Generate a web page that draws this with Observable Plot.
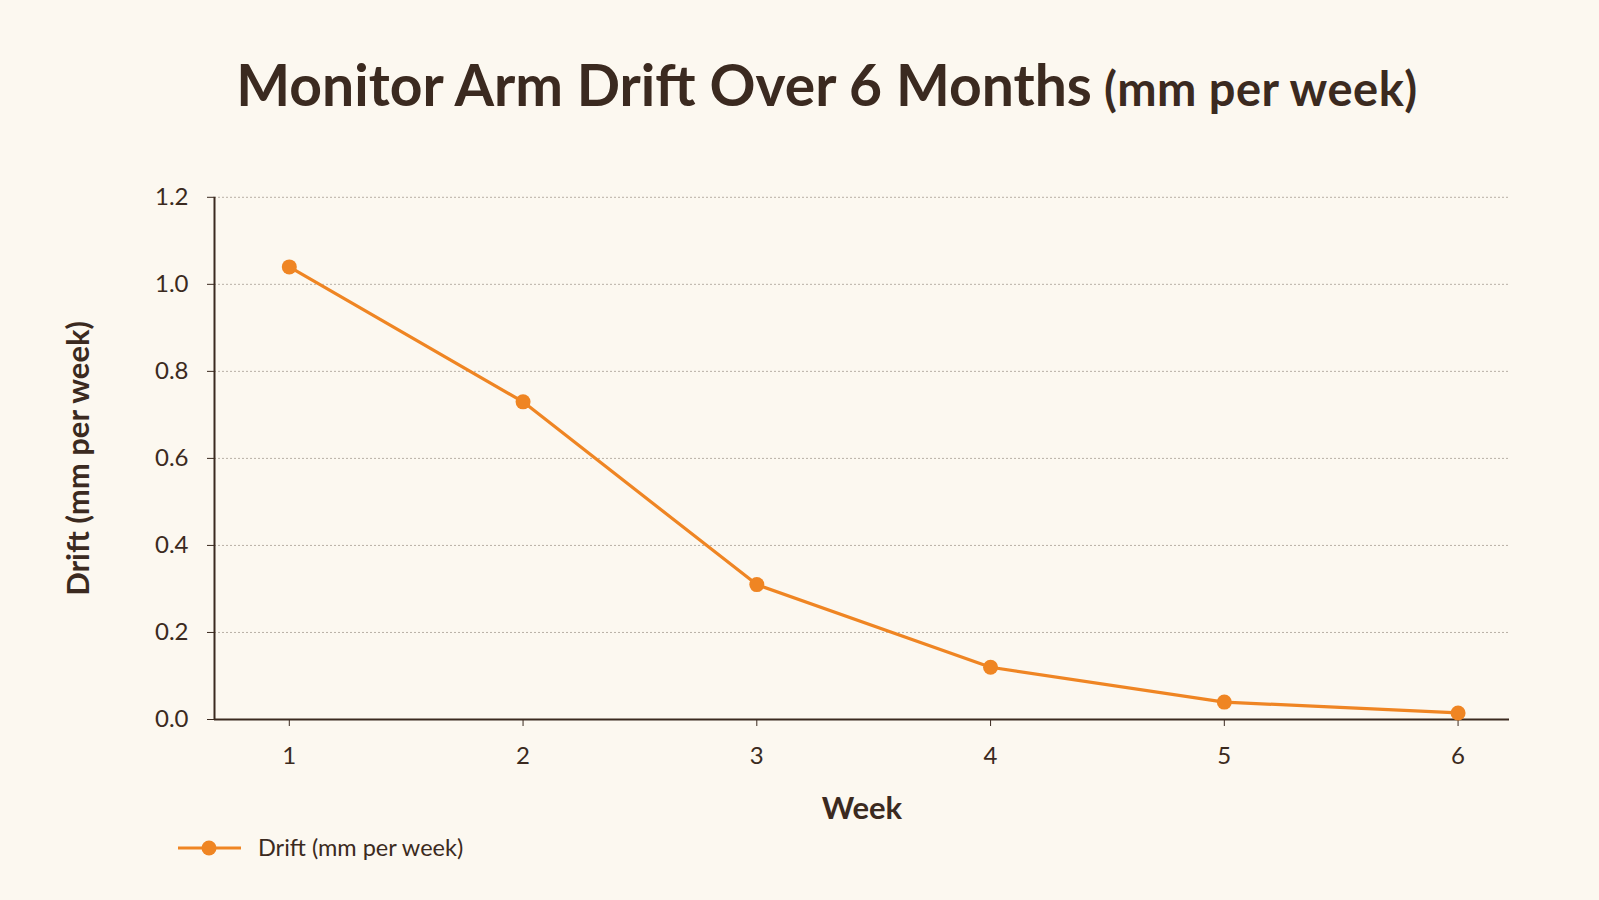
<!DOCTYPE html>
<html>
<head>
<meta charset="utf-8">
<script src="https://cdn.jsdelivr.net/npm/d3@7"></script>
<script src="https://cdn.jsdelivr.net/npm/@observablehq/plot@0.6"></script>
<style>
  html, body { margin: 0; padding: 0; background: #fcf8f0; }
  body { width: 1599px; height: 900px; overflow: hidden; font-family: Lato, "Open Sans", sans-serif; color: #3b2a20; }
  #title { position: absolute; left: 0; top: 0; width: 1599px; height: 150px; }
  #title div { position: absolute; left: 0; width: 1654px; top: 50px; text-align: center; white-space: nowrap; }
  #title .main { font-size: 57px; font-weight: 700; }
  #title .sub { font-size: 47px; font-weight: 700; margin-left: 8px; letter-spacing: 0.5px; }
  #chart { position: absolute; left: 0; top: 150px; }
  #legend { position: absolute; left: 170px; top: 830px; }
</style>
</head>
<body>
<div id="title"><div><span class="main">Monitor Arm Drift Over 6 Months</span> <span class="sub">(mm per week)</span></div></div>
<div id="chart"></div>
<div id="legend"></div>
<script>
const weeks = [1, 2, 3, 4, 5, 6];
const drift = [1.04, 0.73, 0.31, 0.12, 0.04, 0.015];
const yTicks = [0, 0.2, 0.4, 0.6, 0.8, 1.0, 1.2];
const xDomain = [0.68, 6.22];
const yDomain = [0, 1.2];
const seriesName = "Drift (mm per week)";
const xLabel = "Week";
const yLabel = "Drift (mm per week)";

const ink = "#3b2a20";
const orange = "#ef8523";
const data = weeks.map((w, i) => ({week: w, drift: drift[i]}));

const chart = Plot.plot({
  width: 1599,
  height: 680,
  marginLeft: 214,
  marginRight: 90,
  marginTop: 46.8,
  marginBottom: 111,
  style: {background: "transparent", fontFamily: "Lato, 'Open Sans', sans-serif", color: ink, fontSize: "24px"},
  x: {domain: xDomain},
  y: {domain: yDomain},
  marks: [
    Plot.gridY(yTicks, {stroke: "#b8b0a6", strokeOpacity: 1, strokeDasharray: "2,2", strokeWidth: 1}),
    Plot.axisY(yTicks, {tickSize: 7, tickPadding: 19, tickFormat: d3.format(".1f"), stroke: ink, fill: ink, fontSize: 24, label: null}),
    Plot.axisX(weeks, {tickSize: 7, tickPadding: 20, tickFormat: d => String(d), stroke: ink, fill: ink, fontSize: 24, label: null}),
    Plot.ruleY([yDomain[0]], {stroke: ink, strokeWidth: 2}),
    Plot.ruleX([xDomain[0]], {stroke: ink, strokeWidth: 2}),
    Plot.line(data, {x: "week", y: "drift", stroke: orange, strokeWidth: 3.2}),
    Plot.dot(data, {x: "week", y: "drift", r: 7.5, fill: orange, stroke: "none"}),
    Plot.text([yLabel], {frameAnchor: "left", textAnchor: "middle", lineAnchor: "middle", dx: -135, rotate: -90, text: d => d, fontSize: 31, fontWeight: 700, fill: ink}),
    Plot.text([xLabel], {frameAnchor: "bottom", lineAnchor: "middle", dy: 90, text: d => d, fontSize: 31, fontWeight: 700, fill: ink})
  ]
});
document.getElementById("chart").appendChild(chart);

// legend
const lg = d3.select("#legend").append("svg").attr("width", 400).attr("height", 40);
lg.append("line").attr("x1", 8).attr("x2", 71).attr("y1", 18).attr("y2", 18).attr("stroke", orange).attr("stroke-width", 3.2);
lg.append("circle").attr("cx", 39).attr("cy", 18).attr("r", 7.5).attr("fill", orange);
lg.append("text").attr("x", 88).attr("y", 18).attr("dy", "0.35em").attr("font-size", 23.5).attr("fill", ink)
  .attr("font-family", "Lato, 'Open Sans', sans-serif").text(seriesName);
</script>
</body>
</html>
